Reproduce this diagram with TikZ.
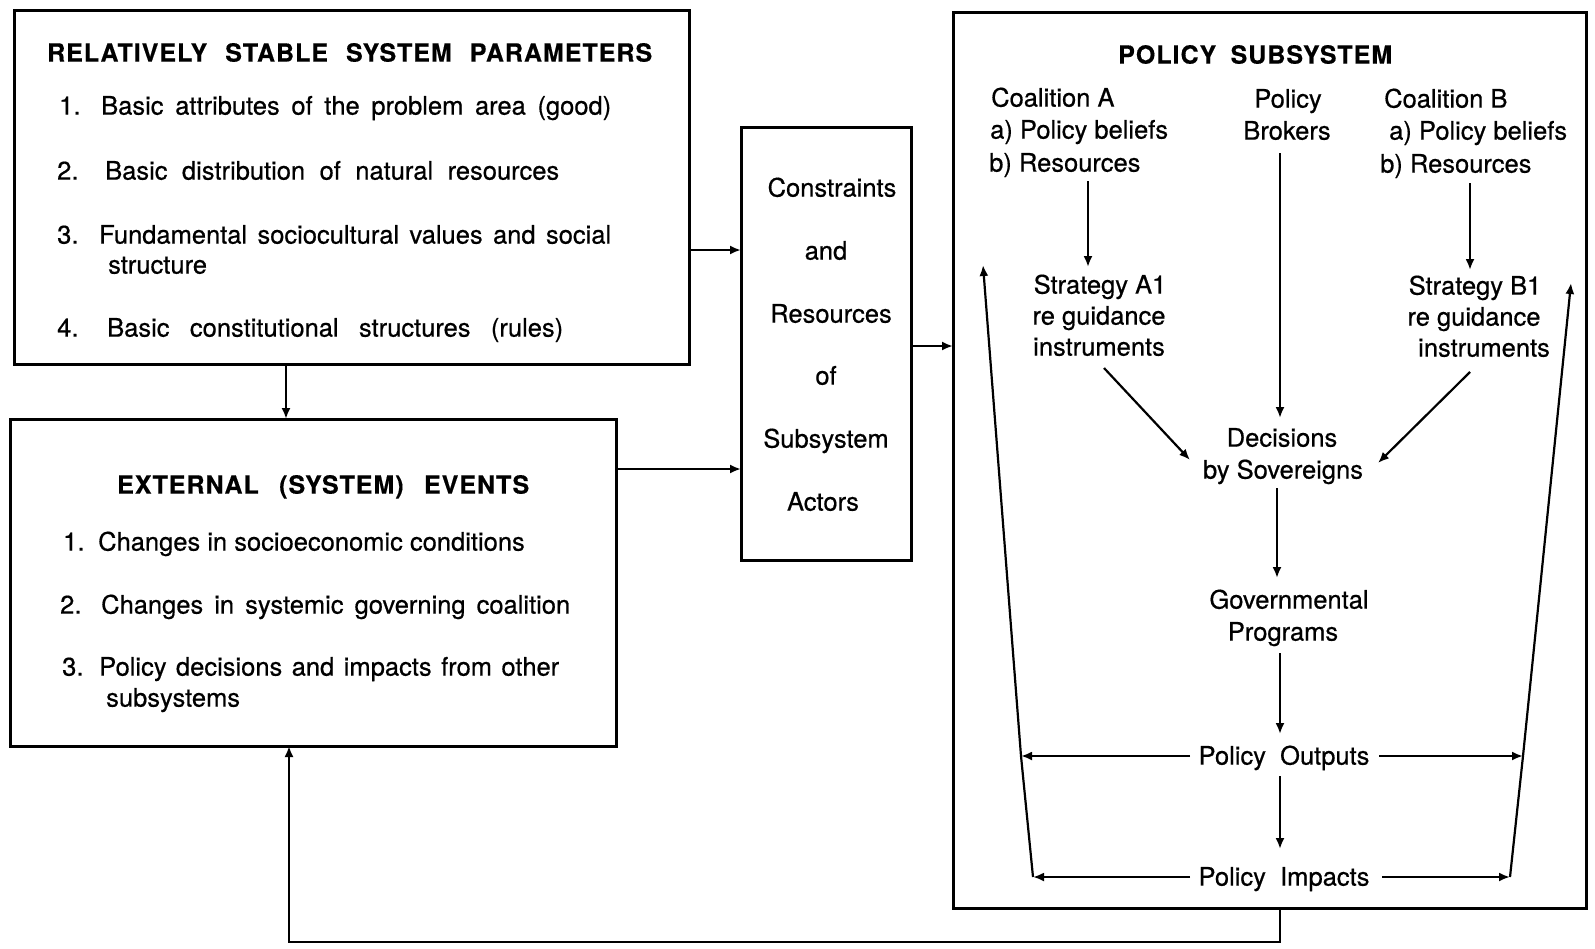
\documentclass[tikz,border=0pt]{standalone}
\usepackage{fontspec}
\setmainfont{TeX Gyre Heros}[FakeBold=0.6]
\newfontfamily\headfont{TeX Gyre Heros Bold}[LetterSpace=4,FakeBold=0.4]
\usetikzlibrary{arrows.meta}
% a line of text spread to a given width
\newcommand{\spread}[2]{\makebox[#1pt][s]{#2}}
\begin{document}
\begin{tikzpicture}[x=1pt,y=-1pt,
  box/.style={draw,line width=3pt},
  conn/.style={line width=2.2pt,-{Latex[length=11pt,width=9pt]}},
  txt/.style={font=\fontsize{25.5}{28}\selectfont,inner sep=0pt},
  ltxt/.style={txt,anchor=mid west},
  ctxt/.style={txt,anchor=mid},
  head/.style={font=\fontsize{25}{28}\headfont,inner sep=0pt,anchor=mid west}]
\useasboundingbox (0,0) rectangle (1595,948);

% boxes
\draw[box] (14,10) rectangle (689,364);
\draw[box] (10,419) rectangle (616,746);
\draw[box] (741,127) rectangle (911,560);
\draw[box] (953,12) rectangle (1586,908);

% stable parameters
\node[head] (h1) at (47,59) {\spread{605}{RELATIVELY STABLE SYSTEM PARAMETERS}};
\node[ltxt] (n1) at (59,112) {1.};
\node[ltxt] (t1) at (101,112) {\spread{510}{Basic attributes of the problem area (good)}};
\node[ltxt] (n2) at (57,177) {2.};
\node[ltxt] (t2) at (105,177) {\spread{454}{Basic distribution of natural resources}};
\node[ltxt] (n3) at (57,241) {3.};
\node[ltxt] (t3) at (99,241) {\spread{512}{Fundamental sociocultural values and social}};
\node[ltxt] (t3b) at (108,271) {structure};
\node[ltxt] (n4) at (57,334) {4.};
\node[ltxt] (t4) at (107,334) {\spread{456}{Basic constitutional structures (rules)}};

% external events
\node[head] (h2) at (117,491) {\spread{412}{EXTERNAL (SYSTEM) EVENTS}};
\node[ltxt] (e1n) at (63,548) {1.};
\node[ltxt] (e1) at (98,548) {Changes in socioeconomic conditions};
\node[ltxt] (e2n) at (60,611) {2.};
\node[ltxt] (e2) at (101,611) {\spread{469}{Changes in systemic governing coalition}};
\node[ltxt] (e3n) at (62,673) {3.};
\node[ltxt] (e3) at (99,673) {\spread{460}{Policy decisions and impacts from other}};
\node[ltxt] (e3b) at (106,704) {subsystems};

% constraints box
\node[ctxt] (m1) at (832,194) {Constraints};
\node[ctxt] (m2) at (826,257) {and};
\node[ctxt] (m3) at (831,320) {Resources};
\node[ctxt] (m4) at (826,382) {of};
\node[ctxt] (m5) at (826,445) {Subsystem};
\node[ctxt] (m6) at (823,508) {Actors};

% policy subsystem
\node[head] (h3) at (1118,61) {\spread{274}{POLICY SUBSYSTEM}};
\node[ltxt] (ca1) at (991,104) {Coalition A};
\node[ltxt] (ca2) at (990,136) {a) Policy beliefs};
\node[ltxt] (ca3) at (989,169) {b) Resources};
\node[ctxt] (pb1) at (1288,105) {Policy};
\node[ctxt] (pb2) at (1287,137) {Brokers};
\node[ltxt] (cb1) at (1384,105) {Coalition B};
\node[ltxt] (cb2) at (1389,137) {a) Policy beliefs};
\node[ltxt] (cb3) at (1380,170) {b) Resources};
\node[ctxt] (sa1) at (1100,291) {Strategy A1};
\node[ctxt] (sa2) at (1099,322) {re guidance};
\node[ctxt] (sa3) at (1099,353) {instruments};
\node[ctxt] (sb1) at (1475,292) {Strategy B1};
\node[ctxt] (sb2) at (1474,323) {re guidance};
\node[ctxt] (sb3) at (1484,354) {instruments};
\node[ctxt] (d1) at (1282,444) {Decisions};
\node[ctxt] (d2) at (1283,476) {by Sovereigns};
\node[ctxt] (g1) at (1289,606) {Governmental};
\node[ctxt] (g2) at (1283,638) {Programs};
\node[ctxt] (po) at (1284,762) {Policy\ \ Outputs};
\node[ctxt] (pi) at (1284,883) {Policy\ \ Impacts};

% funnel sides
\coordinate (lf1) at (1033,877);
\coordinate (lf2) at (1021,756);
\coordinate (lf3) at (983,265);
\coordinate (rf1) at (1510,877);
\coordinate (rf2) at (1523,756);
\coordinate (rf3) at (1571,283);
\draw[conn] (lf1) -- (lf2) -- (lf3);
\draw[conn] (rf1) -- (rf2) -- (rf3);

% connectors
\draw[conn] (286,364) -- (286,419);
\draw[conn] (689,250) -- (741,250);
\draw[conn] (616,469) -- (741,469);
\draw[conn] (911,346) -- (953,346);
\draw[conn] (1088,181) -- (1088,267);
\draw[conn] (1470,183) -- (1470,270);
\draw[conn] (1280,153) -- (1280,418);
\draw[conn] (1104,368) -- (1190,460);
\draw[conn] (1470,372) -- (1378,463);
\draw[conn] (1277,488) -- (1277,578);
\draw[conn] (1280,653) -- (1280,734);
\draw[conn] (1280,776) -- (1280,849);
\draw[conn] (1190,756) -- (lf2);
\draw[conn] (1379,756) -- (rf2);
\draw[conn] (1190,877) -- (lf1);
\draw[conn] (1382,877) -- (rf1);

% feedback loop
\coordinate (fb1) at (1280,908);
\coordinate (fb2) at (1280,942);
\coordinate (fb3) at (289,942);
\coordinate (fb4) at (289,746);
\draw[conn] (fb1) -- (fb2) -- (fb3) -- (fb4);
\end{tikzpicture}
\end{document}
